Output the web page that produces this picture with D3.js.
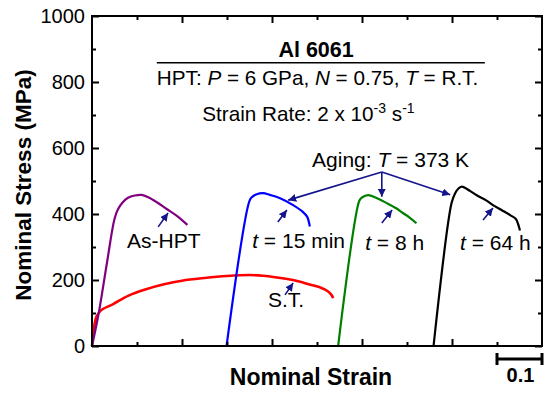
<!DOCTYPE html>
<html>
<head>
<meta charset="utf-8">
<script src="https://cdn.jsdelivr.net/npm/d3@7"></script>
<style>
  body { margin: 0; background: #fff; }
  svg { font-family: Arial, "Liberation Sans", sans-serif; }
</style>
</head>
<body>
<script>
// strain is offset per curve, stress in MPa
const stCurve = [[0,0],[0.004,50],[0.01,89],[0.02,108],[0.047,127],[0.08,152],[0.12,172],[0.16,187],[0.2,198],[0.25,206],[0.3,212],[0.35,215],[0.38,213],[0.42,206],[0.447,200],[0.47,192],[0.49,184],[0.51,176],[0.524,166],[0.532,155],[0.536,145]]
const asHptCurve = [[0,0],[0.015,100],[0.033,250],[0.05,385],[0.058,415],[0.068,435],[0.08,449],[0.095,456],[0.11,458],[0.125,451],[0.145,435],[0.165,416],[0.19,393],[0.212,367]]
const min15Curve = [[0.299,0],[0.35,440],[0.356,452],[0.366,460],[0.38,463],[0.395,458],[0.418,448],[0.447,427],[0.468,407],[0.478,392],[0.484,362]]
const h8Curve = [[0.547,0],[0.594,440],[0.6,450],[0.614,457],[0.63,450],[0.655,433],[0.675,418],[0.691,403],[0.705,390],[0.721,372]]
const h64Curve = [[0.759,0],[0.799,433],[0.807,463],[0.815,478],[0.822,483],[0.84,470],[0.855,457],[0.875,442],[0.891,427],[0.91,412],[0.93,396],[0.942,385],[0.948,365],[0.951,350]]

const seriesNames = ['S.T.', 'As-HPT', 't = 15 min', 't = 8 h', 't = 64 h']
const seriesColors = ['#ff0000', '#800080', '#0000ff', '#008000', '#000000']
const seriesData = [stCurve, asHptCurve, min15Curve, h8Curve, h64Curve]

const yMajorTicks = [0, 200, 400, 600, 800, 1000]
const yMinorTicks = [100, 300, 500, 700, 900]
const xMajorTicks = [0.2, 0.4, 0.6, 0.8]
const xMinorTicks = [0.1, 0.3, 0.5, 0.7, 0.9]

// small arrows [x0, y0, x1, y1] in data units
const pointerArrows = [
  [0.147, 361, 0.169, 403],
  [0.413, 376, 0.433, 412],
  [0.429, 155, 0.447, 191],
  [0.644, 373, 0.667, 412],
  [0.869, 382, 0.891, 418]
]
const agingOrigin = [0.644, 527]
const agingTargets = [[0.436, 442], [0.644, 452], [0.796, 458]]

// curve labels: [text, x, y] (left/baseline, data units)
const curveLabels = [
  ['As-HPT', 0.078, 297],
  ['S.T.', 0.391, 118]
]
const timeLabels = [
  ['15 min', 0.356, 297],
  ['8 h', 0.607, 291],
  ['64 h', 0.818, 291]
]

const width = 549, height = 393
const margin = {left: 92, right: 7, top: 16, bottom: 47}

const svg = d3.select('body').append('svg')
  .attr('width', width)
  .attr('height', height)

const x = d3.scaleLinear().domain([0, 1]).range([margin.left, width - margin.right])
const y = d3.scaleLinear().domain([0, 1000]).range([height - margin.bottom, margin.top])

const defs = svg.append('defs')
defs.append('marker')
  .attr('id', 'head')
  .attr('viewBox', '0 -5 10 10')
  .attr('refX', 10)
  .attr('refY', 0)
  .attr('markerWidth', 5)
  .attr('markerHeight', 5)
  .attr('orient', 'auto')
  .append('path')
  .attr('fill', '#14148c')
  .attr('d', 'M0,-5L10,0L0,5Z')

// curves
const line = d3.line().x(d => x(d[0])).y(d => y(d[1])).curve(d3.curveCatmullRom.alpha(0.5))
svg.append('g')
  .attr('fill', 'none')
  .attr('stroke-linejoin', 'round')
  .selectAll('path')
  .data(seriesData)
  .join('path')
  .attr('stroke', (d, i) => seriesColors[i])
  .attr('stroke-width', (d, i) => i === 0 ? 2.6 : 2.2)
  .attr('d', line)

// axes (inward ticks all round)
const plotBottom = y(0), plotTop = y(1000), plotLeft = x(0), plotRight = x(1)
const axisG = svg.append('g')

const addAxis = (axis, tx, ty) => {
  const g = axisG.append('g').attr('transform', `translate(${tx},${ty})`).call(axis)
  g.attr('font-size', 20).attr('font-family', 'Arial, "Liberation Sans", sans-serif')
  g.select('.domain').remove()
  g.selectAll('line').attr('stroke', '#000').attr('stroke-width', 2)
  g.selectAll('text').attr('fill', '#000')
  return g
}
addAxis(d3.axisLeft(y).tickValues(yMajorTicks).tickSize(-7).tickPadding(7).tickFormat(d3.format('d')), plotLeft, 0)
addAxis(d3.axisLeft(y).tickValues(yMinorTicks).tickSize(-4).tickFormat(''), plotLeft, 0)
addAxis(d3.axisRight(y).tickValues(yMajorTicks).tickSize(-7).tickFormat(''), plotRight, 0)
addAxis(d3.axisRight(y).tickValues(yMinorTicks).tickSize(-4).tickFormat(''), plotRight, 0)
addAxis(d3.axisBottom(x).tickValues(xMajorTicks).tickSize(-7).tickFormat(''), 0, plotBottom)
addAxis(d3.axisBottom(x).tickValues(xMinorTicks).tickSize(-4).tickFormat(''), 0, plotBottom)
addAxis(d3.axisTop(x).tickValues(xMajorTicks).tickSize(-7).tickFormat(''), 0, plotTop)
addAxis(d3.axisTop(x).tickValues(xMinorTicks).tickSize(-4).tickFormat(''), 0, plotTop)

svg.append('rect')
  .attr('x', plotLeft).attr('y', plotTop)
  .attr('width', plotRight - plotLeft).attr('height', plotBottom - plotTop)
  .attr('fill', 'none').attr('stroke', '#000').attr('stroke-width', 2)

// axis titles
svg.append('text')
  .attr('transform', `translate(31,${(plotTop + plotBottom) / 2 + 4}) rotate(-90)`)
  .attr('text-anchor', 'middle')
  .attr('font-weight', 'bold')
  .attr('font-size', 22.5)
  .text('Nominal Stress (MPa)')

svg.append('text')
  .attr('x', (plotLeft + plotRight) / 2 - 6)
  .attr('y', 385)
  .attr('text-anchor', 'middle')
  .attr('font-weight', 'bold')
  .attr('font-size', 23)
  .text('Nominal Strain')

// scale bar 0.1
const bar = svg.append('g').attr('stroke', '#000').attr('stroke-width', 3)
bar.append('line').attr('x1', x(0.9)).attr('x2', x(1)).attr('y1', 359).attr('y2', 359)
bar.append('line').attr('x1', x(0.9)).attr('x2', x(0.9)).attr('y1', 353).attr('y2', 365)
bar.append('line').attr('x1', x(1)).attr('x2', x(1)).attr('y1', 353).attr('y2', 365)
svg.append('text')
  .attr('x', x(0.95) + 1).attr('y', 382)
  .attr('text-anchor', 'middle')
  .attr('font-weight', 'bold')
  .attr('font-size', 20)
  .text('0.1')

// header text
svg.append('text')
  .attr('x', x(0.498)).attr('y', y(876))
  .attr('text-anchor', 'middle')
  .attr('font-weight', 'bold')
  .attr('font-size', 21.5)
  .text('Al 6061')
svg.append('line')
  .attr('x1', x(0.144)).attr('x2', x(0.873))
  .attr('y1', y(858)).attr('y2', y(858))
  .attr('stroke', '#000').attr('stroke-width', 1.5)

const hpt = svg.append('text')
  .attr('x', x(0.144)).attr('y', y(791))
  .attr('font-size', 20.7)
hpt.append('tspan').text('HPT: ')
hpt.append('tspan').attr('font-style', 'italic').text('P')
hpt.append('tspan').text(' = 6 GPa, ')
hpt.append('tspan').attr('font-style', 'italic').text('N')
hpt.append('tspan').text(' = 0.75, ')
hpt.append('tspan').attr('font-style', 'italic').text('T')
hpt.append('tspan').text(' = R.T.')

const rate = svg.append('text')
  .attr('x', x(0.245)).attr('y', y(682))
  .attr('font-size', 20.7)
rate.append('tspan').text('Strain Rate: 2 x 10')
rate.append('tspan').attr('font-size', 14).attr('dy', -8).text('-3')
rate.append('tspan').attr('dy', 8).text(' s')
rate.append('tspan').attr('font-size', 14).attr('dy', -8).text('-1')

const aging = svg.append('text')
  .attr('x', x(0.489)).attr('y', y(542))
  .attr('font-size', 21)
aging.append('tspan').text('Aging: ')
aging.append('tspan').attr('font-style', 'italic').text('T')
aging.append('tspan').text(' = 373 K')

// curve labels
svg.append('g')
  .attr('font-size', 21)
  .selectAll('text')
  .data(curveLabels)
  .join('text')
  .attr('x', d => x(d[1])).attr('y', d => y(d[2]))
  .text(d => d[0])

const tl = svg.append('g')
  .attr('font-size', 21)
  .selectAll('text')
  .data(timeLabels)
  .join('text')
  .attr('x', d => x(d[1])).attr('y', d => y(d[2]))
tl.append('tspan').attr('font-style', 'italic').text('t')
tl.append('tspan').text(d => ' = ' + d[0])

// arrows
const arrows = svg.append('g')
  .attr('stroke', '#14148c')
  .attr('stroke-width', 1.6)
  .attr('marker-end', 'url(#head)')
arrows.selectAll('line.ptr')
  .data(pointerArrows)
  .join('line')
  .attr('class', 'ptr')
  .attr('x1', d => x(d[0])).attr('y1', d => y(d[1]))
  .attr('x2', d => x(d[2])).attr('y2', d => y(d[3]))
arrows.selectAll('line.aging')
  .data(agingTargets)
  .join('line')
  .attr('class', 'aging')
  .attr('x1', x(agingOrigin[0])).attr('y1', y(agingOrigin[1]))
  .attr('x2', d => x(d[0])).attr('y2', d => y(d[1]))
</script>
</body>
</html>
